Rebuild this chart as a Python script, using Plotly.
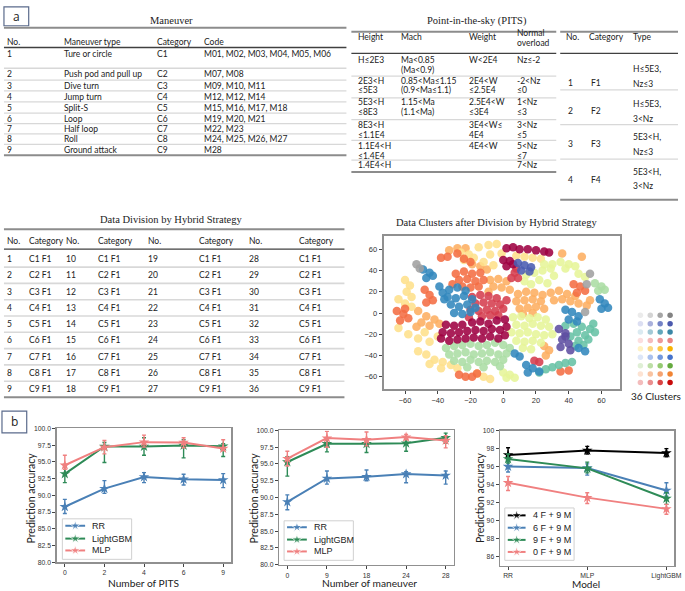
import plotly.graph_objects as go

W, H = 685, 591

# ======================= DATA =======================
# ---- Panel a : Maneuver table ----
man_header = ["No.", "Maneuver type", "Category", "Code"]
man_no = ["1", "2", "3", "4", "5", "6", "7", "8", "9"]
man_type = ["Ture or circle", "Push pod and pull up", "Dive turn", "Jump turn", "Split-S",
            "Loop", "Half loop", "Roll", "Ground attack"]
man_cat = ["C1", "C2", "C3", "C4", "C5", "C6", "C7", "C8", "C9"]
man_code = ["M01, M02, M03, M04, M05, M06", "M07, M08", "M09, M10, M11", "M12, M12, M14",
            "M15, M16, M17, M18", "M19, M20, M21", "M22, M23", "M24, M25, M26, M27", "M28"]

# ---- Point-in-the-sky (PITS) table (cells = list of text lines) ----
pits_header = [["Height"], ["Mach"], ["Weight"], ["Normal", "overload"]]
pits_height = [["H≤2E3"], ["2E3<H", "≤5E3"], ["5E3<H", "≤8E3"], ["8E3<H", "≤1.1E4"],
               ["1.1E4<H", "≤1.4E4"], ["1.4E4<H"]]
pits_mach = [["Ma<0.85", "(Ma<0.9)"], ["0.85<Ma≤1.15", "(0.9<Ma≤1.1)"], ["1.15<Ma", "(1.1<Ma)"],
             [], [], []]
pits_weight = [["W<2E4"], ["2E4<W", "≤2.5E4"], ["2.5E4<W", "≤3E4"], ["3E4<W≤", "4E4"], ["4E4<W"], []]
pits_nz = [["Nz≤-2"], ["-2<Nz", "≤0"], ["1<Nz", "≤3"], ["3<Nz", "≤5"], ["5<Nz", "≤7"], ["7<Nz"]]

# ---- F category table ----
f_header = ["No.", "Category", "Type"]
f_no = ["1", "2", "3", "4"]
f_cat = ["F1", "F2", "F3", "F4"]
f_type = [["H≤5E3,", "Nz≤3"], ["H≤5E3,", "3<Nz"], ["5E3<H,", "Nz≤3"], ["5E3<H,", "3<Nz"]]

# ---- Data Division table ----
div_header = ["No.", "Category", "No.", "Category", "No.", "Category", "No.", "Category"]
div_no_cols = [["1", "2", "3", "4", "5", "6", "7", "8", "9"],
               ["10", "11", "12", "13", "14", "15", "16", "17", "18"],
               ["19", "20", "21", "22", "23", "24", "25", "26", "27"],
               ["28", "29", "30", "31", "32", "33", "34", "35", "36"]]
div_cat = ["C1 F1", "C2 F1", "C3 F1", "C4 F1", "C5 F1", "C6 F1", "C7 F1", "C8 F1", "C9 F1"]

# ---- t-SNE clusters ----
cl_crimson = [(-38, -24), (-33, -26), (-28, -25), (-23, -24), (-37, -18), (-32, -19), (-27, -18), (-22, -17),
              (-35, -11), (-30, -12), (-25, -11), (-18, -23), (-13, -24), (-8, -22), (-3, -24), (1, -21),
              (-17, -16), (-12, -17), (-7, -15), (-2, -16), (2, -13), (-19, -9), (-14, -8), (-9, -10),
              (-4, -7), (1, -6), (2, 61), (6, 62), (10, 60), (15, 60), (20, 59), (25, 58), (28, 57),
              (0, 50), (4, 49), (2, 44), (6, 46)]
cl_red = [(-19, 15), (-14, 17), (-9, 16), (-4, 14), (-17, 9), (-12, 10), (-7, 9), (-2, 8), (2, 12),
          (-20, 3), (-15, 2), (-10, 3), (-5, 2), (0, 4), (-13, -3), (-8, -2), (-3, -2), (-21, -4),
          (7, 38), (9, 33), (5, 33), (8, 42), (19, -45), (22, -46)]
cl_orange = [(-29, 37), (-24, 39), (-19, 37), (-14, 38), (-27, 31), (-22, 32), (-17, 30), (-12, 31),
             (-25, 25), (-20, 24), (-15, 25), (-31, 27), (-65, 2), (-61, -1), (-58, -5), (-63, -7),
             (-60, 4), (43, 27), (47, 25), (50, 21), (45, 19), (-48, 22), (-45, 17), (-43, 12), (-47, 10),
             (-38, 52), (-34, 53), (-28, 56), (-24, 51), (-20, 48), (-27, -58), (-23, -60), (-19, -60),
             (-16, -57), (35, -55), (40, -54)]
cl_lorange = [(9, 18), (14, 20), (19, 19), (24, 17), (8, 11), (13, 12), (18, 13), (23, 11), (10, 4),
              (15, 5), (20, 6), (25, 4), (12, -1), (18, 0), (29, 19), (34, 21), (39, 18), (31, 12),
              (36, 13), (41, 11), (46, 9), (51, 7), (53, 12), (44, 16), (-8, 31), (-3, 32), (2, 30),
              (-6, 25), (-1, 24), (4, 22), (-9, 20), (-19, 46), (-14, 44), (-10, 41), (-52, 2), (-47, -3),
              (-42, -6), (-50, -9), (-45, -12), (-39, -10), (-53, -13), (25, -31), (28, -35), (26, -40),
              (-33, 59), (-28, 61), (-23, 61), (48, 53), (36, 56)]
cl_yellow = [(-26, 57), (-21, 55), (-15, 62), (-9, 64), (-4, 65), (-24, 50), (-18, 52), (-12, 48),
             (-6, 45), (-1, 56), (-8, 55), (-60, 31), (-57, 26), (-59, 20), (-56, 15), (-64, 13), (-60, 9),
             (-56, 6), (-64, -14), (-58, -20), (-52, -24), (-45, -27), (-40, -22), (-48, -18), (-52, -36),
             (-47, -39), (-42, -44), (-37, -46), (-32, -49), (-28, -52), (-45, -48), (-38, -52),
             (-16, -57), (-12, -60), (-8, -62), (8, 54), (13, 53), (18, 52), (23, 51)]
cl_ygreen = [(6, -4), (11, -3), (16, -5), (21, -4), (26, -6), (8, -11), (13, -12), (18, -10), (23, -12),
             (28, -13), (5, -18), (10, -19), (15, -18), (20, -20), (25, -21), (30, -20), (8, -26),
             (13, -27), (18, -26), (23, -28), (12, -33), (17, -34), (14, 36), (19, 38), (24, 40), (29, 42),
             (31, 35), (22, 31), (27, 28), (17, 27), (13, 30), (25, 46), (30, 46), (35, 48), (40, 46),
             (44, 44), (38, 42), (46, 37), (50, 34), (0, -56), (4, -58), (7, -61), (2, -61)]
cl_green = [(-35, -33), (-30, -31), (-25, -30), (-20, -29), (-15, -31), (-10, -30), (-5, -28), (0, -30),
            (4, -33), (-33, -39), (-28, -38), (-23, -37), (-18, -39), (-13, -38), (-8, -37), (-3, -39),
            (2, -38), (-30, -45), (-25, -46), (-20, -44), (-15, -46), (-10, -45), (-5, -46), (0, -44),
            (-22, -51), (-12, -51), (-2, -50), (56, 28), (60, 25), (58, 21), (62, 22)]
cl_teal = [(38, -12), (43, -10), (48, -13), (53, -15), (56, -18), (45, -18), (50, -21), (41, -22),
           (46, -26), (52, -25), (44, -31), (49, -30), (55, -10), (26, -53), (30, -51), (34, -49),
           (38, -47), (42, -46), (22, -56)]
cl_blue = [(-33, 22), (-28, 24), (-23, 21), (-34, 15), (-29, 14), (-24, 16), (-19, 13), (-32, 8),
           (-27, 6), (-22, 8), (-17, 5), (-30, 0), (-25, -1), (-20, 1), (-49, 41), (-45, 38), (-47, 33),
           (-43, 35), (-39, 25), (-37, 19), (-36, 13), (59, 13), (62, 9), (64, 5), (60, 4), (38, 3),
           (42, 1), (46, -3), (40, -6), (45, -8), (7, -38), (10, -41), (14, -49), (18, -52), (22, -55),
           (15, -56), (46, -33), (50, -36)]
cl_indigo = [(9, 47), (13, 45), (17, 43), (11, 40), (16, 39)]
cl_purple = [(34, -15), (38, -19), (36, -25), (40, -29), (35, -32), (41, -35), (38, -22)]
cl_gray = [(-53, 46), (-51, 42), (53, 37), (50, 1), (51, 27)]

clusters = [cl_lorange, cl_yellow, cl_ygreen, cl_green, cl_orange, cl_red, cl_crimson,
            cl_teal, cl_blue, cl_indigo, cl_purple, cl_gray]
cluster_colors = ["#fdae61", "#fee08b", "#e6f598", "#abdda4", "#f46d43", "#d53e4f", "#9e0142",
                  "#66c2a5", "#3288bd", "#4a5cb0", "#5e4fa2", "#a0a0a0"]

# 4 x 9 grid of cluster colours (legend of the scatter)
grid_colors = [
    ["#ebebeb", "#d4d4d4", "#a6a6a6", "#838383"],
    ["#dcdff2", "#aab1dc", "#7483c6", "#4c5aae"],
    ["#dbeaf1", "#a3c9d6", "#63a7bb", "#3b87a6"],
    ["#fcdede", "#f6bcbc", "#ef9999", "#e88484"],
    ["#fff2c4", "#fdd982", "#fdc845", "#f9b200"],
    ["#dce6f8", "#a9c1ee", "#7399de", "#4673cb"],
    ["#dfefd5", "#bcdea5", "#95ca72", "#65aa3f"],
    ["#fde3d3", "#f9c3a1", "#f5a372", "#f18433"],
    ["#f3bcbc", "#ea8f8f", "#da4545", "#c80a0a"],
]
cluster_label = "36 Clusters"

# ---- Panel b ----
pits_x = ["0", "2", "4", "6", "9"]
rr_pits = [88.3, 91.0, 92.75, 92.4, 92.3]
rr_pits_hi = [89.4, 92.2, 93.4, 93.15, 93.25]
rr_pits_lo = [87.3, 90.3, 91.9, 91.55, 91.15]
lgb_pits = [93.2, 97.3, 97.3, 97.45, 97.35]
lgb_pits_hi = [94.6, 97.9, 98.6, 98.3, 97.7]
lgb_pits_lo = [91.9, 94.9, 96.0, 95.6, 95.8]
mlp_pits = [94.5, 97.2, 97.95, 97.9, 97.0]
mlp_pits_hi = [96.0, 98.2, 99.0, 98.6, 98.3]
mlp_pits_lo = [93.9, 96.2, 97.2, 97.1, 96.7]

man_x = ["0", "9", "18", "24", "28"]
rr_man = [89.35, 92.85, 93.1, 93.5, 93.3]
rr_man_hi = [90.4, 93.95, 94.1, 93.85, 93.95]
rr_man_lo = [88.2, 92.0, 92.5, 92.2, 92.0]
lgb_man = [95.3, 98.0, 98.0, 98.1, 98.9]
lgb_man_hi = [96.1, 98.9, 98.5, 98.7, 99.6]
lgb_man_lo = [93.2, 96.8, 96.7, 96.9, 98.1]
mlp_man = [95.8, 98.85, 98.6, 99.0, 98.5]
mlp_man_hi = [96.9, 99.85, 99.75, 99.4, 99.2]
mlp_man_lo = [94.7, 97.5, 97.7, 98.6, 97.4]

models = ["RR", "MLP", "LightGBM"]
f4m9 = [97.3, 97.8, 97.5]
f4m9_hi = [98.1, 98.25, 98.0]
f4m9_lo = [96.95, 97.4, 97.1]
f6m9 = [96.0, 95.85, 93.35]
f6m9_hi = [96.6, 96.3, 94.2]
f6m9_lo = [95.4, 95.05, 92.7]
f9m9 = [96.85, 95.8, 92.45]
f9m9_hi = [97.4, 96.5, 93.1]
f9m9_lo = [96.4, 95.3, 91.8]
f0m9 = [94.2, 92.55, 91.3]
f0m9_hi = [94.9, 93.1, 91.8]
f0m9_lo = [93.35, 91.9, 90.7]

series_names_1 = ["RR", "LightGBM", "MLP"]
series_names_3 = ["4 F + 9 M", "6 F + 9 M", "9 F + 9 M", "0 F + 9 M"]

# ======================= STYLE / LAYOUT CONSTANTS =======================
C_BLUE, C_GREEN, C_PINK, C_BLACK = "#4a80b6", "#2e8b57", "#f08080", "#000000"
SANS = "Lato"
SERIF = "Liberation Serif"
TICKF = "Liberation Sans"
TXT = "#222222"
TS = 8.5   # table text size


def fx(x):
    return x / W


def fy(y):
    return 1 - y / H


def esc(s):
    return s.replace("&", "&amp;").replace("<", "&lt;").replace(">", "&gt;")


ann = []
shapes = []


def text(x, y, s, size=TS, family=SANS, color=TXT, xanchor="left", textangle=0):
    ann.append(dict(x=fx(x), y=fy(y), xref="paper", yref="paper", text=esc(s), showarrow=False,
                    xanchor=xanchor, yanchor="middle", textangle=textangle,
                    font=dict(family=family, size=size, color=color)))


def hline(y, x0, x1, color, width):
    shapes.append(dict(type="line", xref="paper", yref="paper", x0=fx(x0), x1=fx(x1),
                       y0=fy(y), y1=fy(y), line=dict(color=color, width=width), layer="below"))


RULE, RULE_W = "#8c8c8c", 2
HEAD, HEAD_W = "#404040", 1.3
SEP, SEP_W = "#d8d8d8", 1.3

# ---- label boxes ----
for (x0, y0, x1, y1, lab) in [(4, 3, 29, 22, "a"), (2, 412, 27, 434, "b")]:
    shapes.append(dict(type="rect", xref="paper", yref="paper", x0=fx(x0), x1=fx(x1), y0=fy(y1), y1=fy(y0),
                       line=dict(color="#5b6b8c", width=1.2), layer="below"))
    text((x0 + x1) / 2, (y0 + y1) / 2, lab, size=12, family="Open Sans", xanchor="center")

# ---- Maneuver table ----
text(173, 17, "Maneuver", size=10.5, family=SERIF, xanchor="center")
man_cols_x = [5, 63, 157, 204]
man_row_y = [51, 71, 83, 94, 105, 116, 126.5, 137, 147.5]
for cx, h in zip(man_cols_x, man_header):
    text(cx, 38, h)
for i in range(len(man_no)):
    for cx, col in zip(man_cols_x, [man_no, man_type, man_cat, man_code]):
        text(cx, man_row_y[i], col[i])
hline(24, 4, 350, RULE, RULE_W)
hline(44, 4, 350, HEAD, HEAD_W)
for y in [65, 77, 88, 99, 110.5, 121, 131.5, 142]:
    hline(y, 4, 350, SEP, SEP_W)
hline(153, 4, 350, RULE, RULE_W)

# ---- PITS table ----
text(482, 17, "Point-in-the-sky (PITS)", size=10.5, family=SERIF, xanchor="center")
pits_cols_x = [360, 403, 472, 520]
for cx, h in zip(pits_cols_x, pits_header):
    if len(h) == 1:
        text(cx, 33, h[0])
    else:
        text(cx, 29, h[0])
        text(cx, 39, h[1])
pits_row_y = [56.5, 77.5, 99.5, 122.5, 143.5, 163]
for i in range(len(pits_height)):
    for cx, col in zip(pits_cols_x, [pits_height, pits_mach, pits_weight, pits_nz]):
        for k, line in enumerate(col[i]):
            text(cx, pits_row_y[i] + 10 * k, line)
hline(28, 355, 562, RULE, RULE_W)
hline(50, 355, 562, HEAD, HEAD_W)
for y in [73, 95, 117, 138, 158]:
    hline(y, 355, 562, SEP, SEP_W)
hline(170, 355, 562, RULE, RULE_W)

# ---- F table ----
for cx, h in zip([570, 593, 638], f_header):
    text(cx, 33, h)
f_row_y = [80, 108, 142, 178]
f_type_y = [66, 101.5, 135, 170]
for i in range(len(f_no)):
    text(572, f_row_y[i], f_no[i])
    text(595, f_row_y[i], f_cat[i])
    for k, line in enumerate(f_type[i]):
        text(638, f_type_y[i] + 14.5 * k, line)
hline(28, 566, 685, RULE, RULE_W)
hline(50, 566, 685, HEAD, HEAD_W)
for y in [87, 122, 157]:
    hline(y, 566, 685, SEP, SEP_W)
hline(198, 566, 685, RULE, RULE_W)

# ---- Data Division table ----
text(173, 218, "Data Division by Hybrid Strategy", size=10.5, family=SERIF, xanchor="center")
div_cols_x = [5, 27, 65, 97, 148, 199, 250, 300]
for cx, h in zip(div_cols_x, div_header):
    text(cx, 240, h)
for i in range(9):
    y = 258 + 16.5 * i
    for b in range(4):
        text(div_cols_x[2 * b], y, div_no_cols[b][i])
        text(div_cols_x[2 * b + 1], y, div_cat[i])
hline(228, 4, 348, RULE, RULE_W)
hline(248, 4, 348, HEAD, HEAD_W)
for i in range(8):
    hline(266.25 + 16.5 * i, 4, 348, SEP, 1.6)
hline(398, 4, 348, RULE, RULE_W)

# ---- scatter title / legend text ----
text(502, 221, "Data Clusters after Division by Hybrid Strategy", size=10.5, family=SERIF, xanchor="center")
text(663, 397, cluster_label, size=10, xanchor="center")

# ---- axis titles of panel b ----
for (x, y) in [(31.7, 500), (257, 500), (485, 500)]:
    text(x, y, "Prediction accuracy", size=10.5, xanchor="center", textangle=-90)
text(145, 585.5, "Number of PITS", size=10.2, xanchor="center")
text(373, 585.5, "Number of maneuver", size=10.2, xanchor="center")
text(592, 587, "Model", size=10, xanchor="center")

# ======================= FIGURE =======================
fig = go.Figure()


def add_series(xs, ys, hi, lo, color, name, ax):
    fig.add_trace(go.Scatter(
        x=xs, y=ys, mode="lines+markers", name=name, showlegend=False,
        line=dict(color=color, width=2),
        marker=dict(symbol="star", size=8, color=color),
        error_y=dict(type="data", symmetric=False,
                     array=[h - v for h, v in zip(hi, ys)],
                     arrayminus=[v - l for v, l in zip(ys, lo)],
                     color=color, thickness=1.4, width=2),
        xaxis="x" + ax, yaxis="y" + ax))


add_series(pits_x, rr_pits, rr_pits_hi, rr_pits_lo, C_BLUE, series_names_1[0], "")
add_series(pits_x, lgb_pits, lgb_pits_hi, lgb_pits_lo, C_GREEN, series_names_1[1], "")
add_series(pits_x, mlp_pits, mlp_pits_hi, mlp_pits_lo, C_PINK, series_names_1[2], "")
add_series(man_x, rr_man, rr_man_hi, rr_man_lo, C_BLUE, series_names_1[0], "2")
add_series(man_x, lgb_man, lgb_man_hi, lgb_man_lo, C_GREEN, series_names_1[1], "2")
add_series(man_x, mlp_man, mlp_man_hi, mlp_man_lo, C_PINK, series_names_1[2], "2")
add_series(models, f4m9, f4m9_hi, f4m9_lo, C_BLACK, series_names_3[0], "3")
add_series(models, f6m9, f6m9_hi, f6m9_lo, C_BLUE, series_names_3[1], "3")
add_series(models, f9m9, f9m9_hi, f9m9_lo, C_GREEN, series_names_3[2], "3")
add_series(models, f0m9, f0m9_hi, f0m9_lo, C_PINK, series_names_3[3], "3")

# t-SNE scatter
for pts, col in zip(clusters, cluster_colors):
    fig.add_trace(go.Scatter(x=[p[0] for p in pts], y=[p[1] for p in pts], mode="markers",
                             marker=dict(size=8.5, color=col, opacity=0.88), showlegend=False,
                             xaxis="x4", yaxis="y4"))

# cluster colour grid
gx, gy, gc = [], [], []
for r, row in enumerate(grid_colors):
    for c, col in enumerate(row):
        gx.append(c)
        gy.append(r)
        gc.append(col)
fig.add_trace(go.Scatter(x=gx, y=gy, mode="markers", marker=dict(size=5.5, color=gc),
                         showlegend=False, xaxis="x5", yaxis="y5"))

# matplotlib-like legends (pixel overlay axis)
legend_specs = [
    (63, 521, 133, 562, 66, 86, 91, [528, 541, 553], series_names_1, [C_BLUE, C_GREEN, C_PINK]),
    (287, 523, 357, 563, 290, 310, 315, [529.5, 542, 554], series_names_1, [C_BLUE, C_GREEN, C_PINK]),
    (510, 510, 580, 563, 513, 531, 536, [517.5, 530, 542.3, 554.5], series_names_3,
     [C_BLACK, C_BLUE, C_GREEN, C_PINK]),
]
for (bx0, by0, bx1, by1, lx0, lx1, tx, ys, names, cols) in legend_specs:
    shapes.append(dict(type="rect", xref="paper", yref="paper", x0=fx(bx0), x1=fx(bx1),
                       y0=fy(by1), y1=fy(by0), line=dict(color="#d0d0d0", width=1),
                       fillcolor="rgba(255,255,255,0.8)", layer="below"))
    for y, nm, col in zip(ys, names, cols):
        fig.add_trace(go.Scatter(x=[lx0, (lx0 + lx1) / 2, lx1], y=[y, y, y], mode="lines+markers",
                                 line=dict(color=col, width=2),
                                 marker=dict(symbol="star", size=[0, 8, 0], color=col),
                                 showlegend=False, xaxis="x6", yaxis="y6"))
        text(tx, y, nm, size=9, family=TICKF)

axis_common = dict(showline=True, linecolor="#909090", linewidth=1.6, mirror=True, showgrid=False,
                   zeroline=False, ticks="outside", ticklen=3, tickwidth=1, tickcolor="#444",
                   tickfont=dict(family=TICKF, size=6.8, color="#333"))
sc_axis = {**axis_common, "tickfont": dict(family=TICKF, size=7.5, color="#333"), "ticklen": 3.5}

fig.update_layout(
    width=W, height=H, autosize=False,
    margin=dict(l=0, r=0, t=0, b=0),
    paper_bgcolor="white", plot_bgcolor="rgba(0,0,0,0)",
    showlegend=False,
    annotations=ann, shapes=shapes,
    xaxis=dict(domain=[fx(57.5), fx(233.5)], type="category", range=[-0.2, 4.2], anchor="y", **axis_common),
    yaxis=dict(domain=[fy(565), fy(429.5)], range=[80, 100], tick0=80, dtick=2.5, tickformat=".1f",
               anchor="x", **axis_common),
    xaxis2=dict(domain=[fx(282.3), fx(458.3)], type="category", range=[-0.2, 4.2], anchor="y2", **axis_common),
    yaxis2=dict(domain=[fy(567.5), fy(431.5)], range=[80, 100], tick0=80, dtick=2.5, tickformat=".1f",
                anchor="x2", **axis_common),
    xaxis3=dict(domain=[fx(505.3), fx(681.3)], type="category", range=[-0.1, 2.1], anchor="y3", **axis_common),
    yaxis3=dict(domain=[fy(568.3), fy(431.7)], range=[85, 100], tick0=86, dtick=2, anchor="x3", **axis_common),
    xaxis4=dict(domain=[fx(387.7), fx(626.7)], range=[-73, 71.5], tick0=-60, dtick=20, anchor="y4", **sc_axis),
    yaxis4=dict(domain=[fy(389.7), fy(234.7)], range=[-71.6, 72.6], tick0=-60, dtick=20, anchor="x4", **sc_axis),
    xaxis5=dict(domain=[fx(642), fx(682)], range=[-0.5, 3.5], visible=False, anchor="y5"),
    yaxis5=dict(domain=[fy(387.25), fy(310.75)], range=[8.5, -0.5], visible=False, anchor="x5"),
    xaxis6=dict(domain=[0, 1], range=[0, W], visible=False, anchor="y6"),
    yaxis6=dict(domain=[0, 1], range=[H, 0], visible=False, anchor="x6"),
)

fig.write_html("out.html", config={"displayModeBar": False, "staticPlot": True},
               post_script="document.body.style.margin='0px';document.body.style.overflow='hidden';")
